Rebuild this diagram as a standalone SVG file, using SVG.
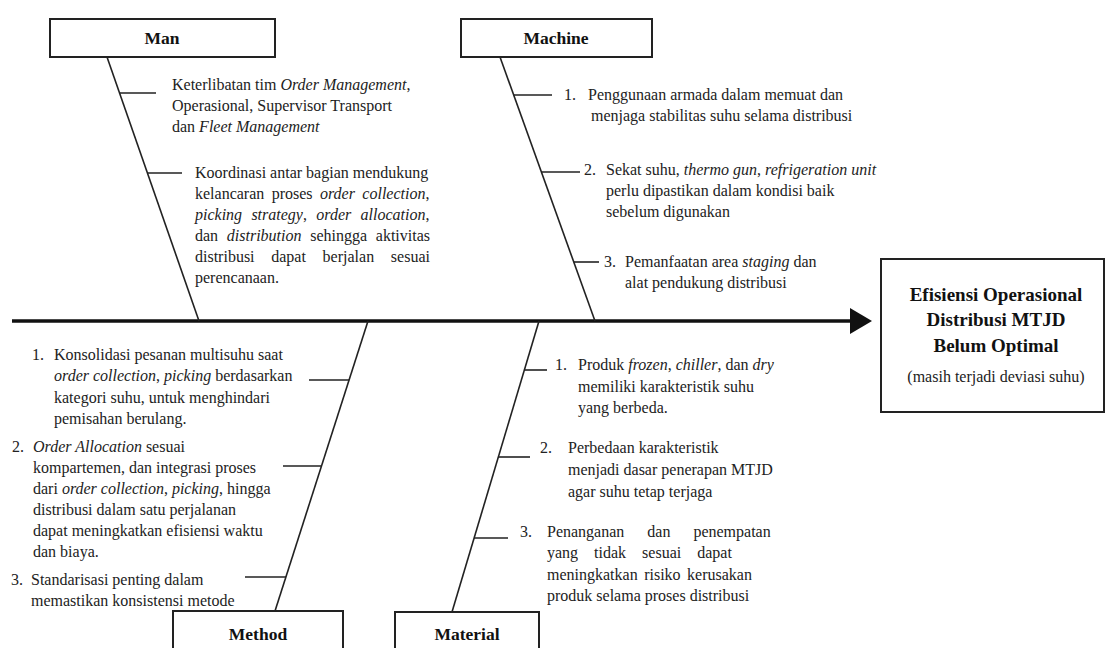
<svg xmlns="http://www.w3.org/2000/svg" width="1108" height="648" viewBox="0 0 1108 648">
<style>
.t{font-family:"Liberation Serif","Times New Roman",serif;font-size:16px;fill:#222}
.i{font-style:italic}
.lbl{font-family:"Liberation Serif","Times New Roman",serif;font-weight:bold;font-size:17.5px;fill:#111;text-anchor:middle}
.eff{font-family:"Liberation Serif","Times New Roman",serif;font-weight:bold;font-size:19px;fill:#111;text-anchor:middle}
.box{fill:#fff;stroke:#222;stroke-width:2}
.bone{stroke:#222;stroke-width:1.6;fill:none}
.spine{stroke:#111;stroke-width:3.5;fill:none}
</style>
<rect width="1108" height="648" fill="#fff"/>
<g id="connectors">
<line class="spine" x1="12" y1="321" x2="852" y2="321"/>
<polygon points="850,308 872,321 850,334" fill="#111"/>
<line class="bone" x1="107" y1="57" x2="199" y2="321"/>
<line class="bone" x1="120" y1="93" x2="156" y2="93"/>
<line class="bone" x1="148" y1="173" x2="182" y2="173"/>
<line class="bone" x1="500" y1="57" x2="595" y2="321"/>
<line class="bone" x1="514" y1="95" x2="552" y2="95"/>
<line class="bone" x1="541" y1="172" x2="580" y2="172"/>
<line class="bone" x1="574" y1="262" x2="599" y2="262"/>
<line class="bone" x1="368" y1="321" x2="275" y2="611"/>
<line class="bone" x1="309" y1="380" x2="349" y2="380"/>
<line class="bone" x1="283" y1="466" x2="321" y2="466"/>
<line class="bone" x1="245" y1="577" x2="286" y2="577"/>
<line class="bone" x1="539" y1="321" x2="452" y2="612"/>
<line class="bone" x1="524" y1="370" x2="547" y2="370"/>
<line class="bone" x1="498" y1="457" x2="530" y2="457"/>
<line class="bone" x1="474" y1="538" x2="508" y2="538"/>
</g>
<g id="man">
<rect class="box" x="50" y="19" width="225" height="38"/>
<text class="lbl" x="162" y="44">Man</text>
<text class="t" x="172" y="90">Keterlibatan tim <tspan class="i">Order Management</tspan>,</text>
<text class="t" x="172" y="111">Operasional, Supervisor Transport</text>
<text class="t" x="172" y="132">dan <tspan class="i">Fleet Management</tspan></text>
<text class="t" x="195" y="178">Koordinasi antar bagian mendukung</text>
<text class="t" x="195" y="199" word-spacing="3.4">kelancaran proses <tspan class="i">order collection</tspan>,</text>
<text class="t" x="195" y="220" word-spacing="5.3"><tspan class="i">picking strategy</tspan>, <tspan class="i">order allocation</tspan>,</text>
<text class="t" x="195" y="241" word-spacing="4.7">dan <tspan class="i">distribution</tspan> sehingga aktivitas</text>
<text class="t" x="195" y="262" word-spacing="12.7">distribusi dapat berjalan sesuai</text>
<text class="t" x="195" y="283">perencanaan.</text>
</g>
<g id="machine">
<rect class="box" x="461" y="19" width="191" height="38"/>
<text class="lbl" x="556" y="44">Machine</text>
<text class="t" x="564" y="100">1.</text>
<text class="t" x="588" y="100">Penggunaan armada dalam memuat dan</text>
<text class="t" x="591" y="121">menjaga stabilitas suhu selama distribusi</text>
<text class="t" x="584" y="175">2.</text>
<text class="t" x="606" y="175">Sekat suhu, <tspan class="i">thermo gun</tspan>, <tspan class="i">refrigeration unit</tspan></text>
<text class="t" x="606" y="196">perlu dipastikan dalam kondisi baik</text>
<text class="t" x="606" y="217">sebelum digunakan</text>
<text class="t" x="604" y="267">3.</text>
<text class="t" x="625" y="267">Pemanfaatan area <tspan class="i">staging</tspan> dan</text>
<text class="t" x="625" y="288">alat pendukung distribusi</text>
</g>
<g id="method">
<rect class="box" x="173" y="611" width="170" height="60"/>
<text class="lbl" x="258" y="640">Method</text>
<text class="t" x="32" y="360">1.</text>
<text class="t" x="54" y="360">Konsolidasi pesanan multisuhu saat</text>
<text class="t" x="54" y="381"><tspan class="i">order collection</tspan>, <tspan class="i">picking</tspan> berdasarkan</text>
<text class="t" x="54" y="403">kategori suhu, untuk menghindari</text>
<text class="t" x="54" y="424">pemisahan berulang.</text>
<text class="t" x="12" y="452">2.</text>
<text class="t" x="33" y="452"><tspan class="i">Order Allocation</tspan> sesuai</text>
<text class="t" x="33" y="473">kompartemen, dan integrasi proses</text>
<text class="t" x="33" y="494">dari <tspan class="i">order collection</tspan>, <tspan class="i">picking</tspan>, hingga</text>
<text class="t" x="33" y="515">distribusi dalam satu perjalanan</text>
<text class="t" x="33" y="536">dapat meningkatkan efisiensi waktu</text>
<text class="t" x="33" y="557">dan biaya.</text>
<text class="t" x="11" y="585">3.</text>
<text class="t" x="31" y="585">Standarisasi penting dalam</text>
<text class="t" x="31" y="606">memastikan konsistensi metode</text>
</g>
<g id="material">
<rect class="box" x="395" y="612" width="144" height="60"/>
<text class="lbl" x="467" y="640">Material</text>
<text class="t" x="555" y="370">1.</text>
<text class="t" x="578" y="370">Produk <tspan class="i">frozen</tspan>, <tspan class="i">chiller</tspan>, dan <tspan class="i">dry</tspan></text>
<text class="t" x="578" y="392">memiliki karakteristik suhu</text>
<text class="t" x="578" y="413">yang berbeda.</text>
<text class="t" x="540" y="453">2.</text>
<text class="t" x="568" y="453">Perbedaan karakteristik</text>
<text class="t" x="568" y="475">menjadi dasar penerapan MTJD</text>
<text class="t" x="568" y="497">agar suhu tetap terjaga</text>
<text class="t" x="520" y="537">3.</text>
<text class="t" x="547" y="537" word-spacing="19">Penanganan dan penempatan</text>
<text class="t" x="547" y="558" word-spacing="12">yang tidak sesuai dapat</text>
<text class="t" x="547" y="580" word-spacing="2.5">meningkatkan risiko kerusakan</text>
<text class="t" x="547" y="601">produk selama proses distribusi</text>
</g>
<g id="effect">
<rect class="box" x="881" y="259" width="223" height="153"/>
<text class="eff" x="996" y="301">Efisiensi Operasional</text>
<text class="eff" x="996" y="326">Distribusi MTJD</text>
<text class="eff" x="996" y="352">Belum Optimal</text>
<text class="t" x="996" y="382" text-anchor="middle" font-size="17.5">(masih terjadi deviasi suhu)</text>
</g>
</svg>
